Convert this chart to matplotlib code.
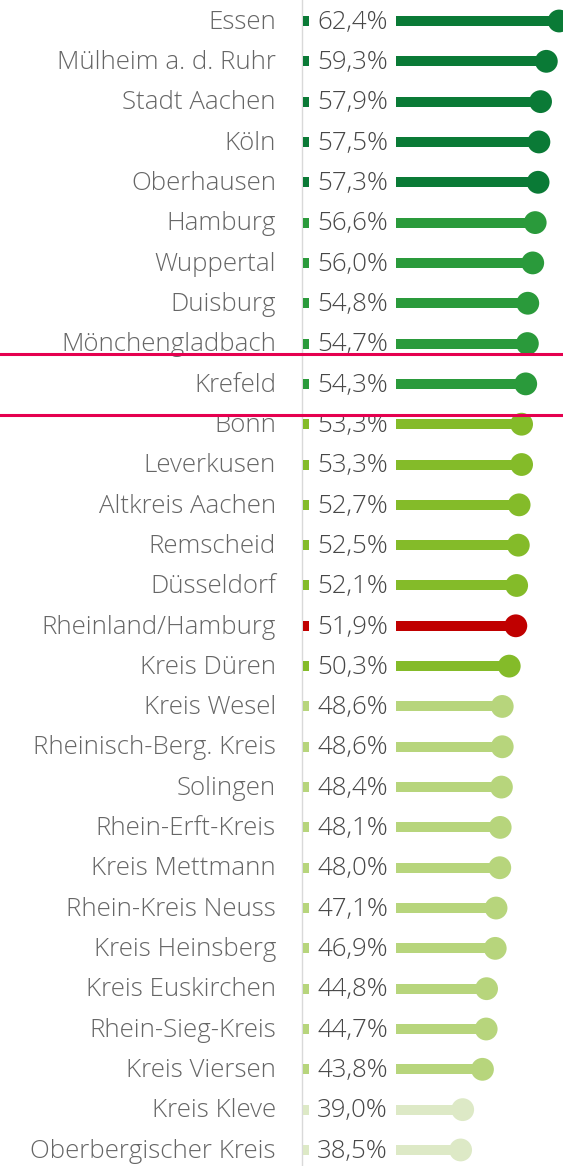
import matplotlib
matplotlib.use("Agg")
import matplotlib.pyplot as plt

# ── Data ──────────────────────────────────────────────────────────────────────
regions = [
    "Essen", "Mülheim a. d. Ruhr", "Stadt Aachen", "Köln", "Oberhausen",
    "Hamburg", "Wuppertal", "Duisburg", "Mönchengladbach", "Krefeld",
    "Bonn", "Leverkusen", "Altkreis Aachen", "Remscheid", "Düsseldorf",
    "Rheinland/Hamburg", "Kreis Düren", "Kreis Wesel", "Rheinisch-Berg. Kreis",
    "Solingen", "Rhein-Erft-Kreis", "Kreis Mettmann", "Rhein-Kreis Neuss",
    "Kreis Heinsberg", "Kreis Euskirchen", "Rhein-Sieg-Kreis", "Kreis Viersen",
    "Kreis Kleve", "Oberbergischer Kreis",
]
values = [
    62.4, 59.3, 57.9, 57.5, 57.3,
    56.6, 56.0, 54.8, 54.7, 54.3,
    53.3, 53.3, 52.7, 52.5, 52.1,
    51.9, 50.3, 48.6, 48.6,
    48.4, 48.1, 48.0, 47.1,
    46.9, 44.8, 44.7, 43.8,
    39.0, 38.5,
]
# colour class per row: 0 dark, 1 mid, 2 light, 3 pale, 4 very pale, 9 total
groups = [0] * 5 + [1] * 5 + [2] * 5 + [9] + [2] + [3] * 10 + [4] * 2
highlight = "Krefeld"

# ── Style ─────────────────────────────────────────────────────────────────────
PALETTE = {0: "#0a7a36", 1: "#2a9a3b", 2: "#84bb29", 3: "#b7d57c",
           4: "#dde9c6", 9: "#c00000"}
C_LABEL = "#666666"
C_VALUE = "#474747"
C_AXIS = "#d9d9d9"
C_MARK = "#e5004f"
FONT = ["Open Sans", "DejaVu Sans"]
FS = 18.6

W, H = 563, 1166
X0 = 302          # pixel where value 0 sits
SCALE = 4.12      # pixels per percentage point
ROW0, ROWH = 21, 40.32

fig = plt.figure(figsize=(W / 100, H / 100), dpi=100)
ax = fig.add_axes([0, 0, 1, 1])
ax.set_xlim(-X0 / SCALE, (W - X0) / SCALE)
ax.set_ylim((H - ROW0) / ROWH, -ROW0 / ROWH)
ax.axis("off")

ax.axvline(0, color=C_AXIS, lw=1.0, zorder=1)

renderer = fig.canvas.get_renderer()
inv = ax.transData.inverted()

for i, (name, v, g) in enumerate(zip(regions, values, groups)):
    col = PALETTE[g]
    ax.text(-26 / SCALE, i + 0.03, name, ha="right", va="center", fontsize=FS,
            color=C_LABEL, family=FONT, fontweight="light", zorder=4)
    t = ax.text(15 / SCALE, i + 0.03, f"{v:.1f}%".replace(".", ","),
                ha="left", va="center", fontsize=FS, color=C_VALUE,
                family=FONT, fontweight="light", zorder=4)
    # bar is interrupted by the value label: small stub, then the rest
    x_end = inv.transform((t.get_window_extent(renderer).x1 + 8, 0))[0]
    ax.plot([0.25, 1.7], [i, i], color=col, lw=7.2, solid_capstyle="butt",
            zorder=2)
    ax.plot([x_end, v], [i, i], color=col, lw=7.2, solid_capstyle="butt",
            zorder=2)
    ax.scatter([v], [i], s=270, color=col, edgecolors="none", zorder=3)

# highlight lines around the selected region
k = regions.index(highlight)
for yy in (k - 0.73, k + 0.78):
    ax.plot([-X0 / SCALE, (W - X0) / SCALE], [yy, yy], color=C_MARK, lw=2.2,
            zorder=5, clip_on=False)

fig.savefig("out.png", dpi=100, facecolor="white")
